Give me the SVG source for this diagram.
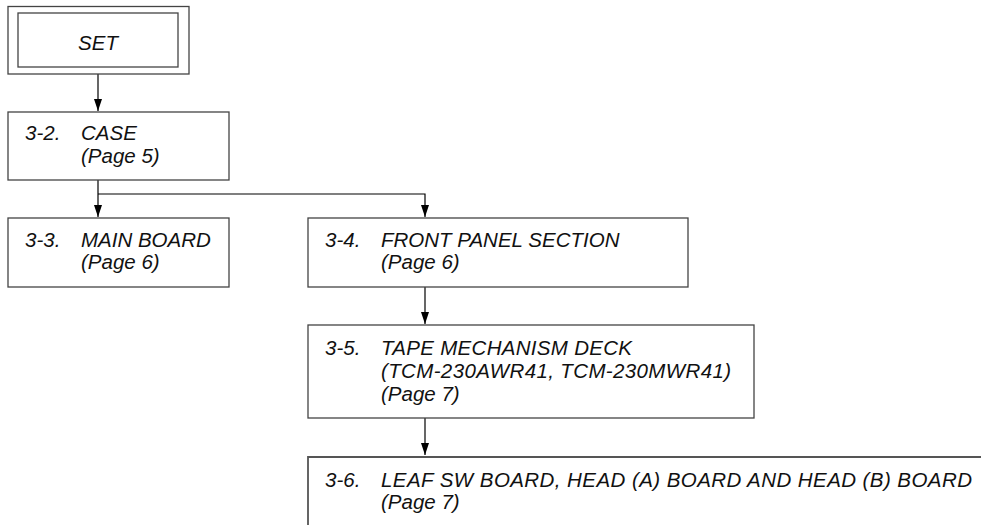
<svg xmlns="http://www.w3.org/2000/svg" width="981" height="525" viewBox="0 0 981 525">
<style>
.box{fill:#fff;stroke:#444;stroke-width:1.3}
.t{font-family:"Liberation Sans",Arial,sans-serif;font-style:italic;font-size:20.5px;fill:#111}
.c{fill:none;stroke:#000;stroke-width:1.2}
</style>
<defs>
<marker id="a" markerWidth="12" markerHeight="8" refX="12" refY="4" orient="auto" markerUnits="userSpaceOnUse">
<path d="M0,0 L12,4 L0,8 Z" fill="#000"/>
</marker>
</defs>
<rect width="981" height="525" fill="#fff"/>
<g id="connectors">
<path class="c" d="M98,74 V111" marker-end="url(#a)"/>
<path class="c" d="M98,180 V217" marker-end="url(#a)"/>
<path class="c" d="M98,194 H425 V217" marker-end="url(#a)"/>
<path class="c" d="M425,287 V324" marker-end="url(#a)"/>
<path class="c" d="M425,418 V455" marker-end="url(#a)"/>
</g>
<g id="set">
<rect class="box" x="8" y="6.5" width="181" height="67.5"/>
<rect class="box" x="18" y="13" width="160" height="54"/>
<text class="t" x="98" y="50" text-anchor="middle">SET</text>
</g>
<g id="case">
<rect class="box" x="8" y="112" width="221" height="68"/>
<text class="t" x="25" y="140">3-2.</text>
<text class="t" x="81" y="140">CASE</text>
<text class="t" x="81" y="162.5">(Page 5)</text>
</g>
<g id="main-board">
<rect class="box" x="8" y="218" width="221" height="69"/>
<text class="t" x="25" y="246.5">3-3.</text>
<text class="t" x="81" y="246.5">MAIN BOARD</text>
<text class="t" x="81" y="269">(Page 6)</text>
</g>
<g id="front-panel">
<rect class="box" x="308" y="218" width="380" height="69"/>
<text class="t" x="325" y="246.5">3-4.</text>
<text class="t" x="381" y="246.5">FRONT PANEL SECTION</text>
<text class="t" x="381" y="269">(Page 6)</text>
</g>
<g id="tape-deck">
<rect class="box" x="308" y="325" width="446" height="93"/>
<text class="t" x="325" y="355">3-5.</text>
<text class="t" x="381" y="355" textLength="251" lengthAdjust="spacing">TAPE MECHANISM DECK</text>
<text class="t" x="381" y="378" textLength="350" lengthAdjust="spacing">(TCM-230AWR41, TCM-230MWR41)</text>
<text class="t" x="381" y="400.5">(Page 7)</text>
</g>
<g id="leaf-sw">
<path fill="none" stroke="#555" stroke-width="1.8" d="M308,525 V457 H981"/>
<text class="t" x="325" y="486.5">3-6.</text>
<text class="t" x="381" y="486.5" textLength="591" lengthAdjust="spacing">LEAF SW BOARD, HEAD (A) BOARD AND HEAD (B) BOARD</text>
<text class="t" x="381" y="509">(Page 7)</text>
</g>
</svg>
